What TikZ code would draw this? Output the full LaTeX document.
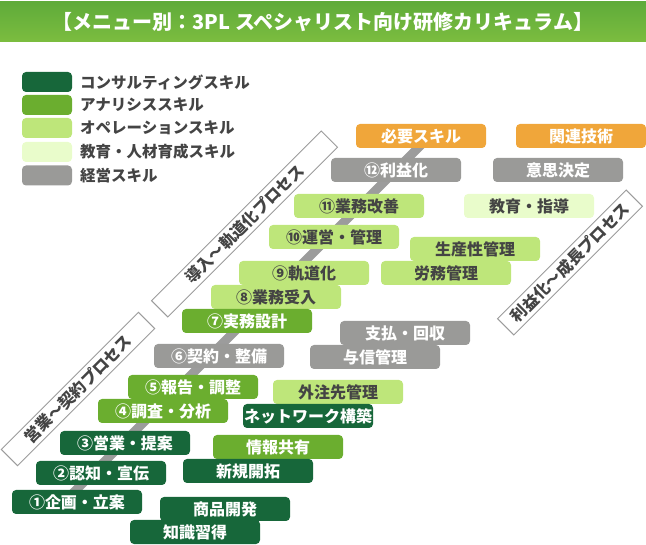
\documentclass[tikz,border=0pt]{standalone}
\usepackage{fontspec}
\setmainfont{Noto Sans CJK JP}
\definecolor{cons}{HTML}{17673A}
\definecolor{anal}{HTML}{6BAE2F}
\definecolor{oper}{HTML}{BEE67A}
\definecolor{edu}{HTML}{E9FCCB}
\definecolor{mgmt}{HTML}{9A9A98}
\definecolor{req}{HTML}{F0A63A}
\definecolor{txt}{HTML}{444444}
\definecolor{stripe}{HTML}{9C9C9C}
\definecolor{tgtop}{HTML}{5FAB3A}
\definecolor{tgmid}{HTML}{248A3B}
\definecolor{tgbot}{HTML}{7CBD3F}
\tikzset{
  skillbox/.style={rounded corners=4pt, minimum width=130pt, minimum height=24pt,
    inner sep=0pt, font=\fontsize{16}{16}\selectfont\bfseries},
  darkbox/.style={skillbox, fill=#1, text=white},
  lightbox/.style={skillbox, fill=#1, text=txt},
  legbox/.style={rounded corners=4pt, minimum width=50pt, minimum height=20pt, inner sep=0pt, fill=#1},
  leglabel/.style={anchor=west, inner sep=0pt, text=txt, font=\fontsize{15.5}{15.5}\selectfont\bfseries},
  band/.style={draw=stripe, line width=1pt, fill=white, rotate=45, minimum height=23pt,
    inner sep=0pt, text=txt, font=\fontsize{16}{16}\selectfont\bfseries}
}
\begin{document}
\begin{tikzpicture}[x=1pt,y=-1pt]
\useasboundingbox (0,0) rectangle (646,545);
% title bar
\shade[top color=tgtop, middle color=tgmid, bottom color=tgbot] (0,2) rectangle (646,42);
\node[text=white, font=\fontsize{20}{20}\selectfont\bfseries, inner sep=0pt] (title) at (323,22)
  {【メニュー別：3PL スペシャリスト向け研修カリキュラム】};
% legend
\node[legbox=cons] (l1) at (47,82) {};
\node[legbox=anal] (l2) at (47,105) {};
\node[legbox=oper] (l3) at (47,128) {};
\node[legbox=edu] (l4) at (47,152) {};
\node[legbox=mgmt] (l5) at (47,175.5) {};
\node[leglabel] (t1) at (80,82) {コンサルティングスキル};
\node[leglabel] (t2) at (80,105) {アナリシススキル};
\node[leglabel] (t3) at (80,128) {オペレーションスキル};
\node[leglabel] (t4) at (80,152) {教育・人材育成スキル};
\node[leglabel] (t5) at (80,175.5) {経営スキル};
% process bands
\node[band, minimum width=194pt] (b1) at (78,389) {営業～契約プロセス};
\node[band, minimum width=240pt] (b2) at (244.5,224) {導入～軌道化プロセス};
\node[band, minimum width=182pt] (b3) at (570,262.5) {利益化～成長プロセス};
% diagonal stripe
\coordinate (s0) at (64,502);
\coordinate (s1) at (430,136);
\draw[line width=9pt, stripe] (s0) -- (s1);
% boxes
\node[darkbox=req] (need) at (421,136) {必要スキル};
\node[darkbox=req] (rel) at (581,136) {関連技術};
\node[darkbox=mgmt] (n12) at (396,170) {⑫利益化};
\node[darkbox=mgmt] (r12) at (558,170) {意思決定};
\node[lightbox=oper] (n11) at (359,206) {⑪業務改善};
\node[lightbox=edu] (r11) at (529,206) {教育・指導};
\node[lightbox=oper] (n10) at (334,237) {⑩運営・管理};
\node[lightbox=oper] (r10) at (475,249) {生産性管理};
\node[lightbox=oper] (n9) at (304,273) {⑨軌道化};
\node[lightbox=oper] (r9) at (446,273) {労務管理};
\node[lightbox=oper] (n8) at (276,297) {⑧業務受入};
\node[darkbox=anal] (n7) at (247,321) {⑦実務設計};
\node[darkbox=mgmt] (r7) at (405,333) {支払・回収};
\node[darkbox=mgmt] (n6) at (219,356) {⑥契約・整備};
\node[darkbox=mgmt] (r6) at (375,357) {与信管理};
\node[darkbox=anal] (n5) at (193,387) {⑤報告・調整};
\node[lightbox=oper] (r5) at (338,392) {外注先管理};
\node[darkbox=anal] (n4) at (163,411) {④調査・分析};
\node[darkbox=cons] (r4) at (308,416) {ネットワーク構築};
\node[darkbox=cons] (n3) at (125,443) {③営業・提案};
\node[darkbox=anal] (r3) at (278,447) {情報共有};
\node[darkbox=cons] (n2) at (101,473) {②認知・宣伝};
\node[darkbox=cons] (r2) at (248,471) {新規開拓};
\node[darkbox=cons] (n1) at (77,502) {①企画・立案};
\node[darkbox=cons] (r1a) at (225,509) {商品開発};
\node[darkbox=cons] (r1b) at (195,532) {知識習得};
\end{tikzpicture}
\end{document}
